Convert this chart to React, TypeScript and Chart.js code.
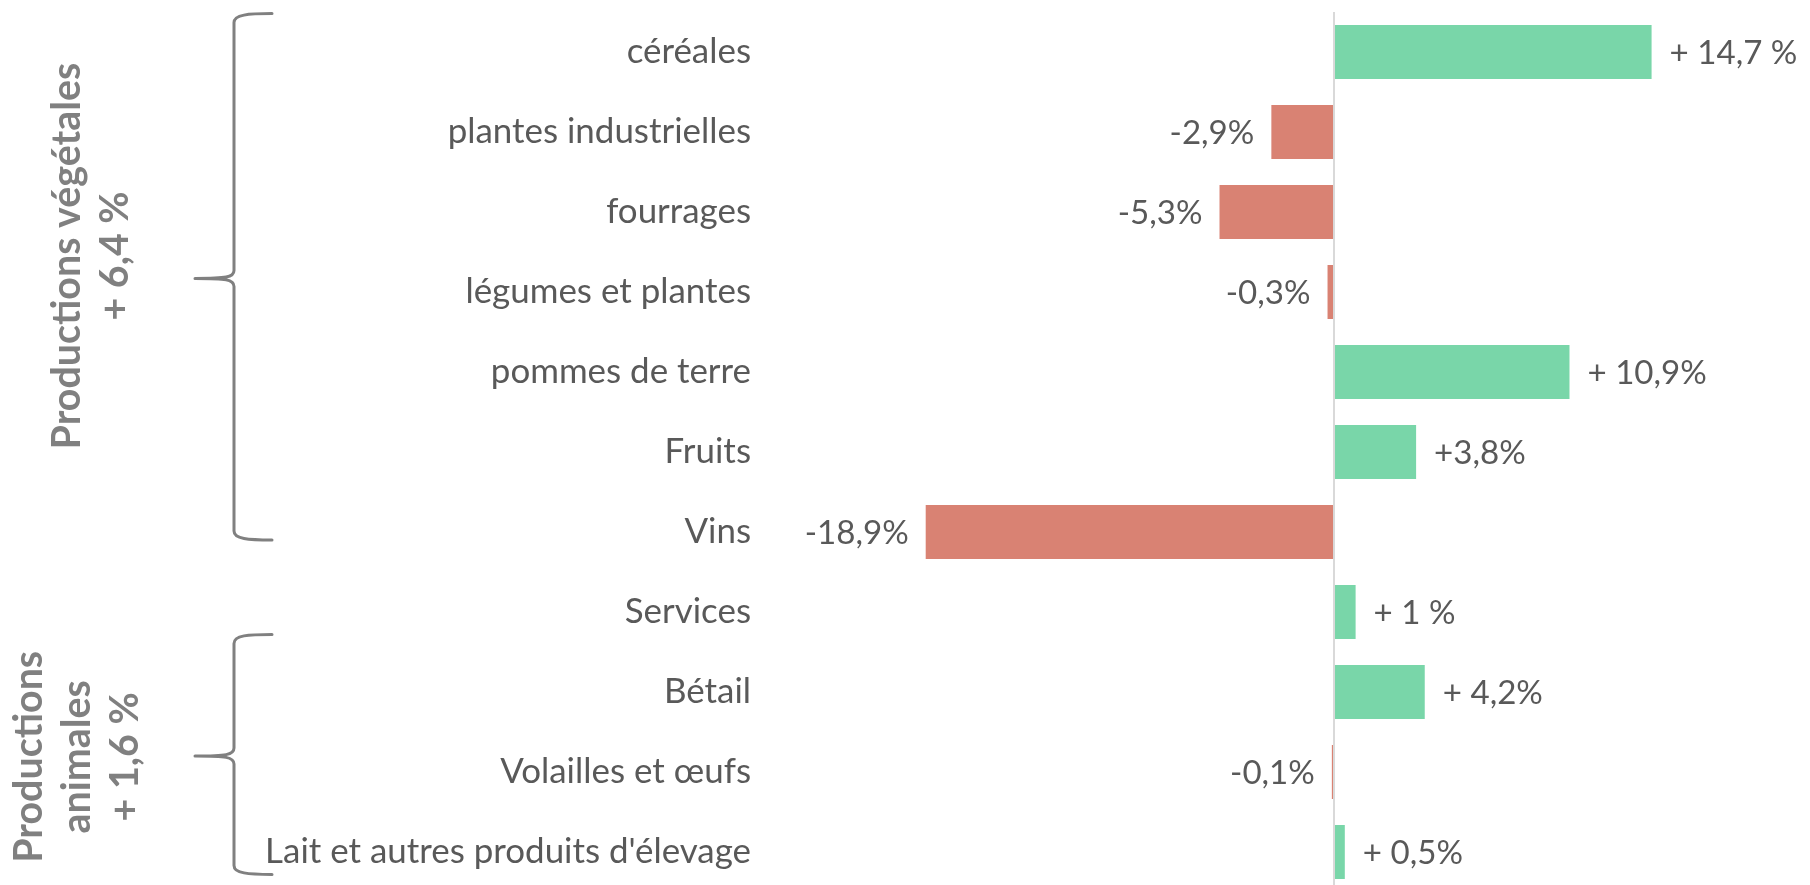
import React, { useEffect, useRef } from "react";
import { Chart, registerables } from "chart.js";

Chart.register(...registerables);

// ---- data ----
const categories = [
  "céréales",
  "plantes industrielles",
  "fourrages",
  "légumes et plantes",
  "pommes de terre",
  "Fruits",
  "Vins",
  "Services",
  "Bétail",
  "Volailles et œufs",
  "Lait et autres produits d'élevage",
];
const changes = [14.7, -2.9, -5.3, -0.3, 10.9, 3.8, -18.9, 1.0, 4.2, -0.1, 0.5];
const valueLabels = [
  "+ 14,7 %",
  "-2,9%",
  "-5,3%",
  "-0,3%",
  "+ 10,9%",
  "+3,8%",
  "-18,9%",
  "+ 1 %",
  "+ 4,2%",
  "-0,1%",
  "+ 0,5%",
];
const plantTitle = ["Productions végétales", "+ 6,4 %"];
const animalTitle = ["Productions", "animales", "+ 1,6 %"];

// ---- styles / layout ----
const POS = "#79D6A9";
const NEG = "#D98273";
const TEXT = "#595959";
const GROUP = "#808080";
const FONT = "Lato";
const X_MIN = -26.57;
const X_MAX = 21.57;
const W = 1810;
const H = 900;

// brace geometry in category units (fractional index) and pixel columns
const BRACES = [
  { from: -0.48, to: 6.1, tip: 2.83, text: 2.55, baselines: [80, 128] },
  { from: 7.28, to: 10.28, tip: 8.8, text: 8.81, baselines: [42, 90, 138] },
];
const BRACE_LINE_X = 234;
const BRACE_HOOK_X = 272;
const BRACE_TIP_X = 195;

function fitSize(text: string, target: number, weight: string) {
  const c = document.createElement("canvas").getContext("2d")!;
  c.font = `${weight} 100px ${FONT}`;
  return (100 * target) / c.measureText(text).width;
}

export default function App() {
  const ref = useRef<HTMLCanvasElement>(null);

  useEffect(() => {
    document.body.style.overflow = "hidden";
    const canvas = ref.current!;
    const catSize = fitSize(categories[10], 486, "normal");
    const dataSize = fitSize("-18,9%", 104, "normal");
    const titleSize = fitSize(plantTitle[0], 387, "bold");

    const valueLabelPlugin = {
      id: "valueLabels",
      afterDatasetsDraw(chart: any) {
        const ctx = chart.ctx;
        const meta = chart.getDatasetMeta(0);
        ctx.save();
        ctx.font = `${dataSize}px ${FONT}`;
        ctx.fillStyle = TEXT;
        ctx.textBaseline = "alphabetic";
        const asc = ctx.measureText("0").actualBoundingBoxAscent;
        meta.data.forEach((bar: any, i: number) => {
          const v = changes[i];
          const yy = bar.y + asc / 2;
          if (v >= 0) {
            ctx.textAlign = "left";
            ctx.fillText(valueLabels[i], bar.x + 18, yy);
          } else {
            ctx.textAlign = "right";
            ctx.fillText(valueLabels[i], bar.x - 17, yy);
          }
        });
        ctx.restore();
      },
    };

    const groupPlugin = {
      id: "groups",
      afterDraw(chart: any) {
        const ctx = chart.ctx;
        const ys = chart.scales.y;
        const titles = [plantTitle, animalTitle];
        BRACES.forEach((b, gi) => {
          const top = ys.getPixelForValue(b.from);
          const bottom = ys.getPixelForValue(b.to);
          const t = ys.getPixelForValue(b.tip);
          const L = BRACE_LINE_X;
          const R = BRACE_HOOK_X;
          const T = BRACE_TIP_X;
          ctx.save();
          ctx.strokeStyle = GROUP;
          ctx.lineWidth = 3;
          ctx.lineCap = "round";
          ctx.lineJoin = "round";
          ctx.beginPath();
          ctx.moveTo(R, top);
          ctx.bezierCurveTo(248, top, L, top + 1, L, top + 9);
          ctx.lineTo(L, t - 8);
          ctx.bezierCurveTo(L, t - 1, 226, t, T, t);
          ctx.moveTo(T, t);
          ctx.bezierCurveTo(226, t, L, t + 1, L, t + 8);
          ctx.lineTo(L, bottom - 9);
          ctx.bezierCurveTo(L, bottom - 1, 248, bottom, R, bottom);
          ctx.stroke();

          const cy = ys.getPixelForValue(b.text);
          ctx.fillStyle = GROUP;
          ctx.font = `bold ${titleSize}px ${FONT}`;
          ctx.textAlign = "center";
          ctx.textBaseline = "alphabetic";
          titles[gi].forEach((s, i) => {
            ctx.save();
            ctx.translate(b.baselines[i], cy);
            ctx.rotate(-Math.PI / 2);
            ctx.fillText(s, 0, 0);
            ctx.restore();
          });
          ctx.restore();
        });
      },
    };

    const chart = new Chart(canvas, {
      type: "bar",
      data: {
        labels: categories,
        datasets: [
          {
            data: changes,
            backgroundColor: changes.map((v) => (v >= 0 ? POS : NEG)),
            borderWidth: 0,
            barPercentage: 0.675,
            categoryPercentage: 1,
          },
        ],
      },
      options: {
        indexAxis: "y",
        responsive: false,
        animation: false,
        devicePixelRatio: 1,
        layout: { padding: { top: 12, bottom: 8, left: 0, right: 10 } },
        plugins: {
          legend: { display: false },
          tooltip: { enabled: false },
          title: { display: false },
        },
        scales: {
          x: {
            min: X_MIN,
            max: X_MAX,
            position: "bottom",
            border: { display: false },
            ticks: { display: false },
            grid: { color: "#D9D9D9", lineWidth: 2, drawTicks: false },
            afterBuildTicks: (s: any) => {
              s.ticks = [{ value: 0 }];
            },
            afterFit: (s: any) => {
              s.height = 0;
              s.paddingLeft = 0;
              s.paddingRight = 0;
              s.paddingTop = 0;
              s.paddingBottom = 0;
            },
          },
          y: {
            border: { display: false },
            grid: { display: false, drawTicks: false },
            ticks: {
              color: TEXT,
              font: { family: FONT, size: catSize },
              padding: 9,
              autoSkip: false,
            },
            afterFit: (s: any) => {
              s.width = 760;
              s.paddingTop = 0;
              s.paddingBottom = 0;
              s.paddingLeft = 0;
              s.paddingRight = 0;
            },
          },
        },
      } as any,
      plugins: [valueLabelPlugin, groupPlugin],
    });
    return () => chart.destroy();
  }, []);

  return (
    <div style={{ position: "fixed", left: 0, top: 0, width: W, height: H, background: "#fff" }}>
      <canvas ref={ref} width={W} height={H} style={{ display: "block", width: W, height: H }} />
    </div>
  );
}
